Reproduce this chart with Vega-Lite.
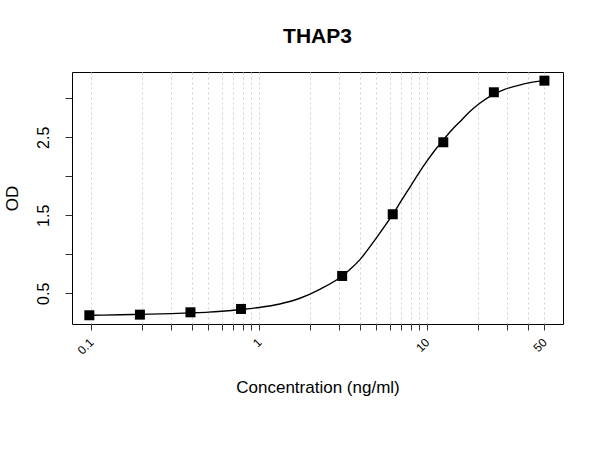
{
  "$schema": "https://vega.github.io/schema/vega-lite/v6.json",
  "width": 491,
  "height": 252,
  "autosize": {"type": "none"},
  "padding": {"left": 72, "top": 72, "right": 37, "bottom": 126},
  "background": "white",
  "title": {
    "text": "THAP3",
    "font": "Liberation Sans",
    "fontSize": 21,
    "fontWeight": "bold",
    "color": "#000000",
    "anchor": "middle",
    "baseline": "alphabetic",
    "offset": 8
  },
  "config": {
    "view": {"stroke": "#000000", "strokeWidth": 1},
    "font": "Liberation Sans",
    "axis": {
      "labelFont": "Liberation Sans",
      "titleFont": "Liberation Sans",
      "labelColor": "#000000",
      "titleColor": "#000000",
      "titleFontWeight": "normal",
      "tickColor": "#333333",
      "domain": false,
      "labelOverlap": false,
      "labelFlush": false,
      "labelBound": false
    }
  },
  "datasets": {
    "standards": [
      {"conc": 50, "od": 3.226},
      {"conc": 25, "od": 3.077},
      {"conc": 12.5, "od": 2.436},
      {"conc": 6.25, "od": 1.513},
      {"conc": 3.125, "od": 0.722},
      {"conc": 0.78125, "od": 0.299},
      {"conc": 0.390625, "od": 0.256},
      {"conc": 0.1953125, "od": 0.226},
      {"conc": 0.09765625, "od": 0.218}
    ],
    "fit": [
      {"conc": 0.0977, "od": 0.218},
      {"conc": 0.15, "od": 0.224},
      {"conc": 0.195, "od": 0.230},
      {"conc": 0.3, "od": 0.239},
      {"conc": 0.39, "od": 0.248},
      {"conc": 0.5, "od": 0.258},
      {"conc": 0.6, "od": 0.270},
      {"conc": 0.78, "od": 0.292},
      {"conc": 1.0, "od": 0.318},
      {"conc": 1.33, "od": 0.363},
      {"conc": 1.75, "od": 0.436},
      {"conc": 2.3, "od": 0.551},
      {"conc": 3.13, "od": 0.722},
      {"conc": 3.5, "od": 0.81},
      {"conc": 4.0, "od": 0.935},
      {"conc": 4.9, "od": 1.185},
      {"conc": 5.6, "od": 1.36},
      {"conc": 6.31, "od": 1.525},
      {"conc": 7.0, "od": 1.68},
      {"conc": 7.94, "od": 1.865},
      {"conc": 8.9, "od": 2.035},
      {"conc": 9.96, "od": 2.19},
      {"conc": 11.2, "od": 2.34},
      {"conc": 12.5, "od": 2.465},
      {"conc": 14.0, "od": 2.59},
      {"conc": 15.7, "od": 2.70},
      {"conc": 18.0, "od": 2.83},
      {"conc": 20.7, "od": 2.94},
      {"conc": 24.9, "od": 3.05},
      {"conc": 29.0, "od": 3.115},
      {"conc": 34.2, "od": 3.16},
      {"conc": 41.0, "od": 3.20},
      {"conc": 50, "od": 3.226}
    ]
  },
  "encoding": {
    "x": {
      "field": "conc",
      "type": "quantitative",
      "scale": {"type": "log", "domain": [0.077, 64.5], "nice": false},
      "axis": {
        "title": "Concentration (ng/ml)",
        "titleFontSize": 17,
        "titleY": 68,
        "titleBaseline": "alphabetic",
        "values": [0.1, 0.2, 0.3, 0.4, 0.5, 0.6, 0.7, 0.8, 0.9, 1, 2, 3, 4, 5, 6, 7, 8, 9, 10, 20, 30, 40, 50],
        "labelExpr": "datum.value == 0.1 ? '0.1' : datum.value == 1 ? '1' : datum.value == 10 ? '10' : datum.value == 50 ? '50' : ''",
        "labelAngle": -45,
        "labelAlign": "right",
        "labelBaseline": "middle",
        "labelFontSize": 12,
        "labelPadding": 10,
        "tickSize": 6,
        "grid": true,
        "gridColor": "#d0d0d0",
        "gridDash": [2, 3],
        "gridWidth": 1
      }
    },
    "y": {
      "field": "od",
      "type": "quantitative",
      "scale": {"domain": [0.106, 3.337], "nice": false, "zero": false},
      "axis": {
        "title": "OD",
        "titleFontSize": 17,
        "titleAngle": -90,
        "titleX": -55,
        "titleY": 126,
        "titleAlign": "center",
        "titleBaseline": "alphabetic",
        "values": [0.5, 1, 1.5, 2, 2.5, 3],
        "labelExpr": "datum.value == 0.5 ? '0.5' : datum.value == 1.5 ? '1.5' : datum.value == 2.5 ? '2.5' : ''",
        "labelAngle": -90,
        "labelAlign": "center",
        "labelBaseline": "bottom",
        "labelFontSize": 16,
        "labelPadding": 14,
        "tickSize": 7,
        "grid": false
      }
    }
  },
  "layer": [
    {
      "data": {"name": "fit"},
      "mark": {"type": "line", "color": "#000000", "strokeWidth": 1.4, "interpolate": "monotone"}
    },
    {
      "data": {"name": "standards"},
      "mark": {"type": "point", "shape": "square", "filled": true, "color": "#000000", "size": 100, "opacity": 1}
    }
  ]
}
